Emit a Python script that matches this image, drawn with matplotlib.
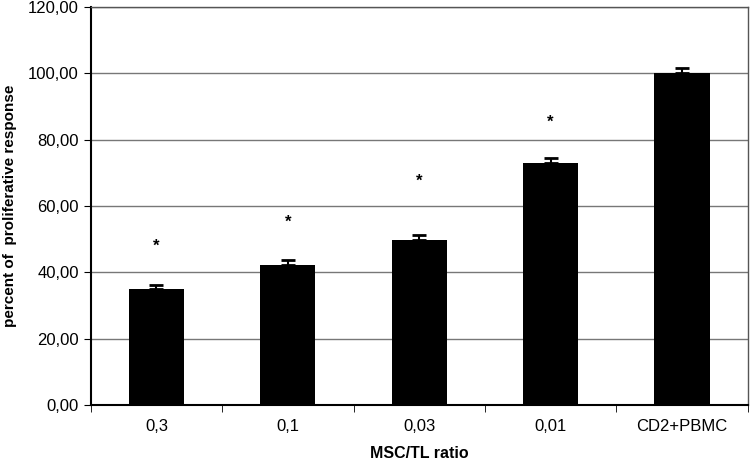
import matplotlib.pyplot as plt
import numpy as np

plt.rcParams['font.family'] = ['Liberation Sans', 'DejaVu Sans']

ratios = ['0,3', '0,1', '0,03', '0,01', 'CD2+PBMC']
response = [35.0, 42.3, 49.8, 73.0, 100.2]
errors = [1.3, 1.4, 1.4, 1.5, 1.4]
star_heights = [48.0, 55.0, 67.3, 85.2]

fig = plt.figure(figsize=(7.5, 4.66), dpi=100)
ax = fig.add_axes([0.121, 0.131, 0.876, 0.854])

x = np.arange(len(ratios))
ax.bar(x, response, width=0.42, color='black', zorder=3,
       yerr=[np.zeros(len(errors)), errors], capsize=5,
       error_kw=dict(ecolor='black', elinewidth=1.5, capthick=2))

# significance markers
for i, h in enumerate(star_heights):
    ax.text(x[i], h, '*', ha='center', va='center', fontsize=12, fontweight='bold', zorder=4)

ax.set_xlim(-0.5, len(ratios) - 0.5)
ax.set_ylim(0, 120)
ax.set_yticks(np.arange(0, 121, 20))
ax.set_yticklabels([f'{v:.2f}'.replace('.', ',') for v in np.arange(0, 121, 20)], fontsize=12)
ax.yaxis.grid(True, color='#777777', linewidth=1, zorder=0)

ax.set_xticks(x)
ax.set_xticklabels(ratios, fontsize=12)
ax.tick_params(axis='x', length=0, pad=10)
ax.set_xticks(np.arange(-0.5, len(ratios), 1), minor=True)
ax.tick_params(axis='x', which='minor', length=5, direction='out')
ax.tick_params(axis='y', length=5, direction='out')

for s in ['left', 'bottom']:
    ax.spines[s].set_linewidth(1.5)
for s in ['top', 'right']:
    ax.spines[s].set_color('#555555')
    ax.spines[s].set_linewidth(1)

ax.set_ylabel('percent of  proliferative response', fontsize=11, fontweight='bold', labelpad=8)
ax.set_xlabel('MSC/TL ratio', fontsize=11.5, fontweight='bold', labelpad=9)

fig.savefig('out.png', dpi=100)
